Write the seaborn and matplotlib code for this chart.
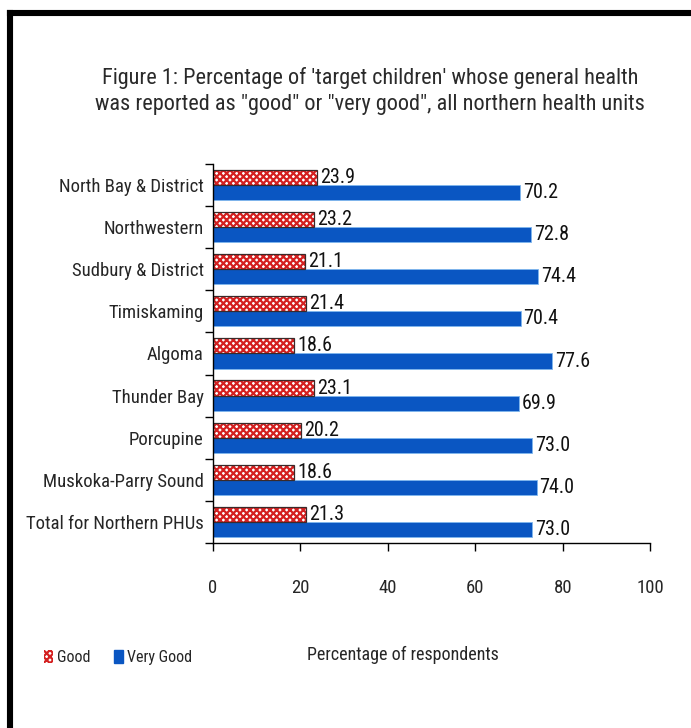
import numpy as np
import pandas as pd
import matplotlib
matplotlib.use("Agg")
import matplotlib.pyplot as plt
from matplotlib.lines import Line2D
from matplotlib.patches import Rectangle
import seaborn as sns

categories = ["North Bay & District", "Northwestern", "Sudbury & District", "Timiskaming",
              "Algoma", "Thunder Bay", "Porcupine", "Muskoka-Parry Sound", "Total for Northern PHUs"]
good = [23.9, 23.2, 21.1, 21.4, 18.6, 23.1, 20.2, 18.6, 21.3]
very_good = [70.2, 72.8, 74.4, 70.4, 77.6, 69.9, 73.0, 74.0, 73.0]
series = ["Good", "Very Good"]
xticks = [0, 20, 40, 60, 80, 100]

df = pd.DataFrame({
    "Region": categories * 2,
    "Value": good + very_good,
    "Series": [series[0]] * len(categories) + [series[1]] * len(categories),
})

sns.set_theme(style="white")
FONT = ["Roboto Condensed", "DejaVu Sans"]
plt.rcParams["font.family"] = FONT
plt.rcParams["font.stretch"] = "condensed"
plt.rcParams["hatch.linewidth"] = 1.6

RED = "#d42020"
BLUE = "#0a56c2"

fig = plt.figure(figsize=(6.91, 7.28), dpi=100)
ax = fig.add_axes([0.308, 0.254, 0.633, 0.521])

sns.barplot(data=df, y="Region", x="Value", hue="Series", order=categories,
            hue_order=series, palette=["white", BLUE], width=0.72, orient="h",
            ax=ax, legend=False, saturation=1)

good_cont, vg_cont = ax.containers[0], ax.containers[1]
for p in good_cont.patches:
    p.set_hatch("xxxxx")
    p.set_edgecolor(RED)
    p.set_linewidth(0)
    outline = Rectangle(p.get_xy(), p.get_width(), p.get_height(), fill=False,
                        edgecolor="#3a2a2a", linewidth=0.9, zorder=p.get_zorder() + 0.1)
    ax.add_patch(outline)
for p in vg_cont.patches:
    p.set_edgecolor("#7fb6ee")
    p.set_linewidth(0.6)

for cont in (good_cont, vg_cont):
    ax.bar_label(cont, fmt="%.1f", padding=2, fontsize=14.5, color="#111111")

ax.set_xlim(0, 100)
ax.set_xticks(xticks)
ax.set_xticklabels([str(t) for t in xticks], fontsize=13.5)
ax.tick_params(axis="x", direction="out", length=6, width=1, color="black", pad=20, bottom=True)
ax.tick_params(axis="y", which="major", length=0, pad=6.5, labelsize=13.5)
ax.set_yticks(np.arange(len(categories) + 1) - 0.5, minor=True)
ax.tick_params(axis="y", which="minor", direction="out", length=6, width=1, color="black", left=True)
ax.set_xlabel("")
ax.set_ylabel("")
for s in ["top", "right"]:
    ax.spines[s].set_visible(False)
for s in ["left", "bottom"]:
    ax.spines[s].set_color("black")
    ax.spines[s].set_linewidth(1)

fig.text(0.536, 0.875, "Figure 1: Percentage of 'target children' whose general health\n"
         "was reported as \"good\" or \"very good\", all northern health units",
         ha="center", va="center", fontsize=16, color="#2a2a2a", linespacing=1.3)

fig.text(0.583, 0.1, "Percentage of respondents", ha="center", va="center", fontsize=13)

handles = [Rectangle((0, 0), 1, 1, facecolor="white", edgecolor=RED, hatch="xxxxx", linewidth=0),
           Rectangle((0, 0), 1, 1, facecolor=BLUE, edgecolor=BLUE)]
leg = fig.legend(handles, series, loc="center left", bbox_to_anchor=(0.043, 0.097),
                 ncol=2, frameon=False, fontsize=11.5, handlelength=0.55, handleheight=0.85,
                 handletextpad=0.25, columnspacing=1.5)

fig.add_artist(Line2D([0.0145, 0.0145], [0, 0.9825], transform=fig.transFigure,
                      color="black", linewidth=4.4, solid_capstyle="projecting"))
fig.add_artist(Line2D([0.0145, 1.0], [0.9825, 0.9825], transform=fig.transFigure,
                      color="black", linewidth=4.4, solid_capstyle="projecting"))

fig.savefig("out.png", dpi=100, facecolor="white")
